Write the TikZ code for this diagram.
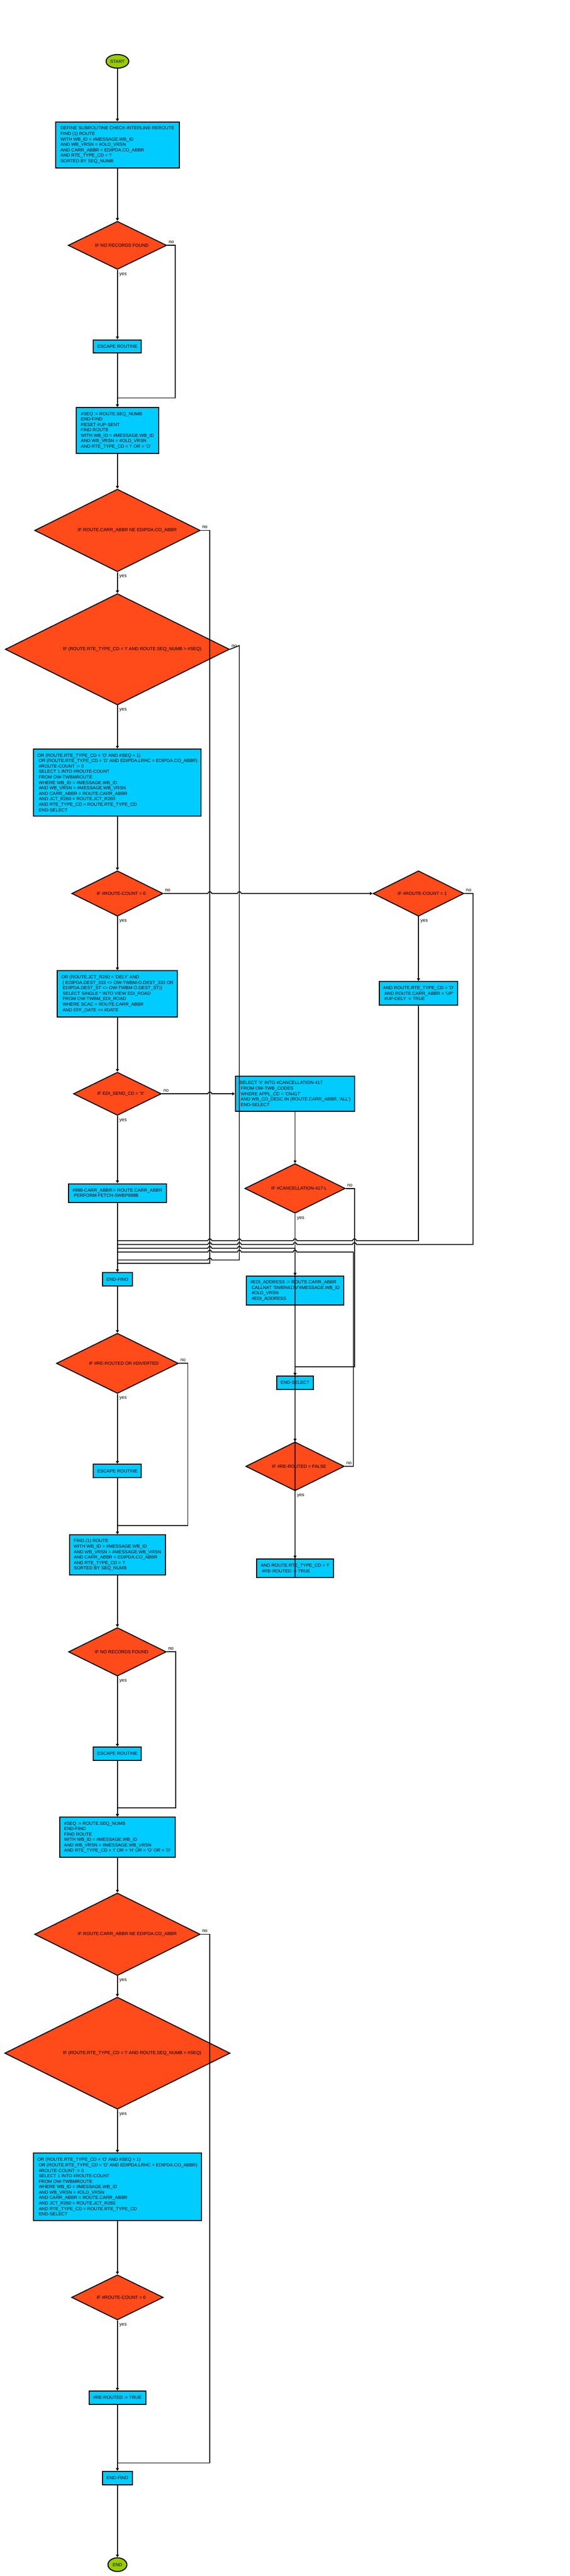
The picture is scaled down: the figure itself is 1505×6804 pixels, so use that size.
\documentclass[tikz,border=0pt]{standalone}
\usepackage{fontspec}
\setmainfont{Liberation Sans}
\usetikzlibrary{shapes.geometric,arrows.meta}
\definecolor{boxc}{RGB}{0,204,255}
\definecolor{diac}{RGB}{255,74,25}
\definecolor{termc}{RGB}{153,204,0}
\newcommand\myq{\textquotesingle}
\newcommand\myind{\hspace*{3.33pt}}
\begin{document}
\begin{tikzpicture}[x=1pt,y=-1pt,
  every node/.style={font=\fontsize{12pt}{14.4pt}\selectfont},
  sz/.style 2 args={minimum width=#1pt,minimum height=#2pt},
  box/.style={draw=black,line width=2.7pt,fill=boxc,align=left,inner sep=0pt},
  dia/.style={draw=black,diamond,line width=2.5pt,fill=diac,inner sep=0pt},
  term/.style={draw=black,ellipse,line width=2.7pt,fill=termc,inner sep=0pt},
  dtext/.style={inner sep=0pt},
  lbl/.style={inner sep=0pt,font=\fontsize{12.5pt}{14pt}\selectfont},
  conn/.style={line width=2.2pt},
  arr/.style={-{Triangle[length=7pt,width=8pt]}}]
\fill[white] (0,0) rectangle (1505,6804);
\useasboundingbox (0,0) rectangle (1505,6804);

% ---------- nodes ----------
\node[term,sz={60}{36}] (start) at (310,162) {START};
\node[box,sz={326}{122}] (b1) at (310,383) {DEFINE SUBROUTINE CHECK-INTERLINE-REROUTE\\
FIND (1) ROUTE\\
WITH WB\_ID = \#MESSAGE.WB\_ID\\
AND WB\_VRSN = \#OLD\_VRSN\\
AND CARR\_ABBR = EDIPDA.CO\_ABBR\\
AND RTE\_TYPE\_CD = \myq I\myq\\
SORTED BY SEQ\_NUMB};
\node[dia,sz={260}{127}] (d1) at (310,648) {};
\node[dtext] (d1t) at ([xshift=12pt]d1.center) {IF NO RECORDS FOUND};
\node[box,sz={127}{35}] (e1) at (310,915) {ESCAPE ROUTINE};
\node[box,sz={217}{121}] (b2) at (310,1137) {\#SEQ := ROUTE.SEQ\_NUMB\\
END-FIND\\
RESET \#UP-SENT\\
FIND ROUTE\\
WITH WB\_ID = \#MESSAGE.WB\_ID\\
AND WB\_VRSN = \#OLD\_VRSN\\
AND RTE\_TYPE\_CD = \myq I\myq{} OR = \myq O\myq};
\node[dia,sz={437}{218}] (d2) at (310,1401) {};
\node[dtext] (d2t) at ([xshift=26pt]d2.center) {IF ROUTE.CARR\_ABBR NE EDIPDA.CO\_ABBR};
\node[dia,sz={592}{294}] (d3) at (310,1715) {};
\node[dtext] (d3t) at ([xshift=39pt]d3.center) {IF (ROUTE.RTE\_TYPE\_CD = \myq I\myq{} AND ROUTE.SEQ\_NUMB > \#SEQ)};
\node[box,sz={442}{177}] (b3) at (310,2067) {OR (ROUTE.RTE\_TYPE\_CD = \myq O\myq{} AND \#SEQ = 1)\\
\myind OR (ROUTE.RTE\_TYPE\_CD = \myq D\myq{} AND EDIPDA.LRHC = EDIPDA.CO\_ABBR)\\
\myind \#ROUTE-COUNT := 0\\
\myind SELECT 1 INTO \#ROUTE-COUNT\\
\myind FROM OW-TWBMROUTE\\
\myind WHERE WB\_ID = \#MESSAGE.WB\_ID\\
\myind AND WB\_VRSN = \#MESSAGE.WB\_VRSN\\
\myind AND CARR\_ABBR = ROUTE.CARR\_ABBR\\
\myind AND JCT\_R260 = ROUTE.JCT\_R260\\
\myind AND RTE\_TYPE\_CD = ROUTE.RTE\_TYPE\_CD\\
\myind END-SELECT};
\node[dia,sz={241}{120}] (d4) at (310,2360) {};
\node[dtext] (d4t) at ([xshift=10pt]d4.center) {IF \#ROUTE-COUNT = 0};
\node[dia,sz={240}{120}] (d5) at (1105,2360) {};
\node[dtext] (d5t) at ([xshift=10pt]d5.center) {IF \#ROUTE-COUNT = 1};
\node[box,sz={317}{122}] (b4) at (310,2625) {OR (ROUTE.JCT\_R260 = \myq DELY\myq{} AND\\
\myind ( EDIPDA.DEST\_333 <> OW-TWBM-O.DEST\_333 OR\\
\myind EDIPDA.DEST\_ST <> OW-TWBM-O.DEST\_ST))\\
\myind SELECT SINGLE * INTO VIEW EDI\_ROAD\\
\myind FROM OW-TWBM\_EDI\_ROAD\\
\myind WHERE SCAC = ROUTE.CARR\_ABBR\\
\myind AND EFF\_DATE <= \#DATE};
\node[box,sz={207}{63}] (b5) at (1105,2624) {AND ROUTE.RTE\_TYPE\_CD = \myq D\myq\\
\myind AND ROUTE.CARR\_ABBR = \myq UP\myq\\
\myind \#UP-DELY := TRUE};
\node[dia,sz={232}{114}] (d6) at (310,2889) {};
\node[dtext] (d6t) at ([xshift=9pt]d6.center) {IF EDI\_SEND\_CD = \myq X\myq};
\node[box,sz={315}{92}] (b6) at (779,2889) {SELECT \myq X\myq{} INTO \#CANCELLATION-417\\
\myind FROM OW-TWB\_CODES\\
\myind WHERE APPL\_CD = \myq CN417\myq\\
\myind AND WB\_CD\_DESC IN (ROUTE.CARR\_ABBR, \myq ALL\myq)\\
\myind END-SELECT};
\node[box,sz={259}{49}] (b7) at (310,3151) {\#998-CARR\_ABBR:= ROUTE.CARR\_ABBR\\
\myind PERFORM FETCH-SWBP998B};
\node[dia,sz={265}{131}] (d7) at (779,3139) {};
\node[dtext] (d7t) at ([xshift=11pt]d7.center) {IF \#CANCELLATION-417-L};
\node[box,sz={257}{77}] (b8) at (779,3409) {\#EDI\_ADDRESS := ROUTE.CARR\_ABBR\\
\myind CALLNAT \myq SWBN417V\myq\#MESSAGE.WB\_ID\\
\myind \#OLD\_VRSN\\
\myind \#EDI\_ADDRESS};
\node[box,sz={79}{35}] (ef1) at (310,3379) {END-FIND};
\node[box,sz={97}{35}] (es) at (779,3652) {END-SELECT};
\node[dia,sz={260}{129}] (d8) at (779,3873) {};
\node[dtext] (d8t) at ([xshift=11pt]d8.center) {IF \#RE-ROUTED = FALSE};
\node[box,sz={203}{49}] (b9) at (779,4142) {AND ROUTE.RTE\_TYPE\_CD = \myq I\myq\\
\myind \#RE-ROUTED := TRUE};
\node[dia,sz={322}{159}] (d9) at (310,3601) {};
\node[dtext] (d9t) at ([xshift=17pt]d9.center) {IF \#RE-ROUTED OR \#DIVERTED};
\node[box,sz={127}{35}] (e2) at (310,3885) {ESCAPE ROUTINE};
\node[box,sz={253}{106}] (b10) at (310,4107) {FIND (1) ROUTE\\
WITH WB\_ID = \#MESSAGE.WB\_ID\\
AND WB\_VRSN = \#MESSAGE.WB\_VRSN\\
AND CARR\_ABBR = EDIPDA.CO\_ABBR\\
AND RTE\_TYPE\_CD = \myq I\myq\\
SORTED BY SEQ\_NUMB};
\node[dia,sz={258}{128}] (d10) at (310,4363) {};
\node[dtext] (d10t) at ([xshift=11pt]d10.center) {IF NO RECORDS FOUND};
\node[box,sz={127}{35}] (e3) at (310,4632) {ESCAPE ROUTINE};
\node[box,sz={304}{106}] (b11) at (310,4853) {\#SEQ := ROUTE.SEQ\_NUMB\\
END-FIND\\
FIND ROUTE\\
WITH WB\_ID = \#MESSAGE.WB\_ID\\
AND WB\_VRSN = \#MESSAGE.WB\_VRSN\\
AND RTE\_TYPE\_CD = \myq I\myq{} OR = \myq H\myq{} OR = \myq O\myq{} OR = \myq D\myq};
\node[dia,sz={437}{218}] (d11) at (310,5109) {};
\node[dtext] (d11t) at ([xshift=26pt]d11.center) {IF ROUTE.CARR\_ABBR NE EDIPDA.CO\_ABBR};
\node[dia,sz={595}{296}] (d12) at (310,5423) {};
\node[dtext] (d12t) at ([xshift=39pt]d12.center) {IF (ROUTE.RTE\_TYPE\_CD = \myq I\myq{} AND ROUTE.SEQ\_NUMB > \#SEQ)};
\node[box,sz={444}{178}] (b12) at (310,5776) {OR (ROUTE.RTE\_TYPE\_CD = \myq O\myq{} AND \#SEQ = 1)\\
\myind OR (ROUTE.RTE\_TYPE\_CD = \myq D\myq{} AND EDIPDA.LRHC = EDIPDA.CO\_ABBR)\\
\myind \#ROUTE-COUNT := 0\\
\myind SELECT 1 INTO \#ROUTE-COUNT\\
\myind FROM OW-TWBMROUTE\\
\myind WHERE WB\_ID = \#MESSAGE.WB\_ID\\
\myind AND WB\_VRSN = \#OLD\_VRSN\\
\myind AND CARR\_ABBR = ROUTE.CARR\_ABBR\\
\myind AND JCT\_R260 = ROUTE.JCT\_R260\\
\myind AND RTE\_TYPE\_CD = ROUTE.RTE\_TYPE\_CD\\
\myind END-SELECT};
\node[dia,sz={242}{119}] (d13) at (310,6068) {};
\node[dtext] (d13t) at ([xshift=10pt]d13.center) {IF \#ROUTE-COUNT = 0};
\node[box,sz={149}{35}] (b13) at (310,6333) {\#RE-ROUTED := TRUE};
\node[box,sz={79}{35}] (ef2) at (310,6545) {END-FIND};
\node[term,sz={50}{36}] (end) at (310,6774) {END};

% ---------- yes / no labels ----------
\foreach \d in {d1,d2,d3,d4,d5,d6,d7,d8,d9,d10,d11,d12,d13}{
  \node[lbl,anchor=base west] (\d y) at ([shift={(5,14)}]\d.south) {yes};
}
\foreach \d in {d1,d2,d3,d4,d5,d6,d7,d8,d9,d10,d11}{
  \node[lbl,anchor=base west] (\d n) at ([shift={(4,-5)}]\d.east) {no};
}

% ---------- connectors ----------
\draw[conn,arr] (start) -- (b1);
\draw[conn,arr] (b1) -- (d1);
\draw[conn,arr] (d1) -- (e1);
\draw[conn,arr] (e1) -- (b2);
\draw[conn] (d1.east) -- (463,648) -- (463,1051) -- (310,1051);
\draw[conn,arr] (b2) -- (d2);
\draw[conn,arr] (d2) -- (d3);
\draw[conn] (d2.east) -- (554,1401) -- (554,3337) -- (310,3337);
\draw[conn,arr] (d3) -- (b3);
\draw[conn] (d3.east) -- (632,1705) -- (632,3328) -- (559,3328)
   arc[start angle=0,end angle=180,radius=5pt] -- (310,3328);
\draw[conn,arr] (b3) -- (d4);
\draw[conn,arr] (d4) -- (b4);
\draw[conn,arr] (d4.east) -- (549,2360) arc[start angle=180,end angle=0,radius=5pt]
   -- (627,2360) arc[start angle=180,end angle=0,radius=5pt] -- (d5.west);
\draw[conn,arr] (d5) -- (b5);
\draw[conn] (d5.east) -- (1249,2360) -- (1249,3287) -- (941,3287)
   arc[start angle=0,end angle=180,radius=5pt] -- (784,3287)
   arc[start angle=0,end angle=180,radius=5pt] -- (637,3287)
   arc[start angle=0,end angle=180,radius=5pt] -- (559,3287)
   arc[start angle=0,end angle=180,radius=5pt] -- (310,3287);
\draw[conn] (b5.south) -- (1105,3277) -- (941,3277)
   arc[start angle=0,end angle=180,radius=5pt] -- (784,3277)
   arc[start angle=0,end angle=180,radius=5pt] -- (637,3277)
   arc[start angle=0,end angle=180,radius=5pt] -- (559,3277)
   arc[start angle=0,end angle=180,radius=5pt] -- (310,3277);
\draw[conn,arr] (b4) -- (d6);
\draw[conn,arr] (d6) -- (b7);
\draw[conn,arr] (d6.east) -- (549,2889) arc[start angle=180,end angle=0,radius=5pt] -- (b6.west);
\draw[conn,arr] (b6) -- (d7);
\draw[conn,arr] (d7) -- (b8);
\draw[conn,arr] (d7.east) -- (936,3139) -- (936,3610) -- (779,3610) -- (es.north);
\draw[conn,arr] (b8) -- (es);
\draw[conn,arr] (es) -- (d8);
\draw[conn,arr] (d8) -- (b9);
\draw[conn] (d8.east) -- (933,3873) -- (933,3307) -- (784,3307)
   arc[start angle=0,end angle=180,radius=5pt] -- (637,3307)
   arc[start angle=0,end angle=180,radius=5pt] -- (559,3307)
   arc[start angle=0,end angle=180,radius=5pt] -- (310,3307);
\draw[conn] (b9.south) -- (779,3297) -- (637,3297)
   arc[start angle=0,end angle=180,radius=5pt] -- (559,3297)
   arc[start angle=0,end angle=180,radius=5pt] -- (310,3297);
\draw[conn,arr] (b7) -- (ef1);
\draw[conn,arr] (ef1) -- (d9);
\draw[conn,arr] (d9) -- (e2);
\draw[conn,arr] (e2) -- (b10);
\draw[conn] (d9.east) -- (496,3601) -- (496,4029) -- (310,4029);
\draw[conn,arr] (b10) -- (d10);
\draw[conn,arr] (d10) -- (e3);
\draw[conn,arr] (e3) -- (b11);
\draw[conn] (d10.east) -- (464,4363) -- (464,4775) -- (310,4775);
\draw[conn,arr] (b11) -- (d11);
\draw[conn,arr] (d11) -- (d12);
\draw[conn] (d11.east) -- (554,5109) -- (554,6505) -- (310,6505);
\draw[conn,arr] (d12) -- (b12);
\draw[conn,arr] (b12) -- (d13);
\draw[conn,arr] (d13) -- (b13);
\draw[conn,arr] (b13) -- (ef2);
\draw[conn,arr] (ef2) -- (end);
\end{tikzpicture}
\end{document}
